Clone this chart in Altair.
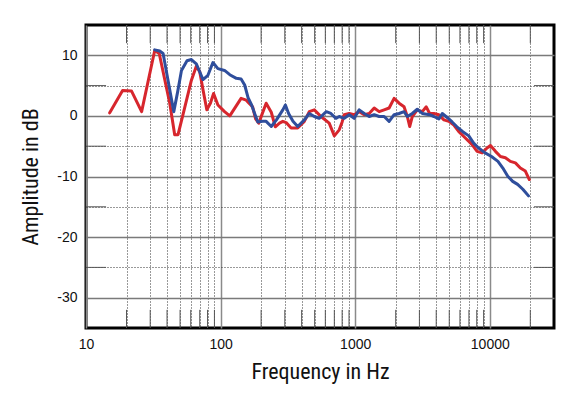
import altair as alt
import pandas as pd

# ---- data ----
red_freq = [15, 18.7, 21.8, 25.9, 32.4, 35, 41.9, 45.6, 48.3, 54, 60.7, 66, 70, 74, 79, 84, 88.7, 95.5,
            107, 117, 142, 155, 164, 173, 182, 192, 205, 218, 238, 255, 274, 290, 307, 334, 374, 419,
            456, 497, 557, 641, 700, 761, 800, 829, 903, 983, 1071, 1167, 1271, 1384, 1507, 1641,
            1787, 1946, 2119, 2307, 2439, 2541, 2656, 2893, 3152, 3373, 3573, 3846, 4188, 4561, 4966,
            5408, 5889, 6413, 7390, 8047, 8763, 9543, 10118, 11019, 11999, 13066, 14228, 15494,
            16872, 18373, 19672]
red_db = [0.5, 4.2, 4.1, 0.7, 10.8, 10.3, 2.1, -3.1, -3.1, 1.3, 5.9, 8.2, 7.3, 4.3, 1.0, 2.1, 3.7, 1.8,
          0.7, 0.0, 2.9, 2.6, 2.0, 1.5, -0.5, -1.2, 0.5, 2.1, 0.6, -1.8, -1.2, -0.9, -1.1, -2.0, -2.0, -0.9,
          0.7, 1.0, -0.1, -1.2, -3.3, -2.3, -1.0, 0.2, 0.4, 0.2, 0.7, 0.2, 0.4, 1.3, 0.7, 1.0,
          1.3, 2.9, 2.1, 1.5, -0.1, -1.75, -0.1, 1.0, 0.7, 1.5, 0.4, 0.4, 0.2, -0.65, -0.9,
          -1.5, -2.6, -3.4, -4.75, -5.85, -6.1, -5.3, -4.9, -5.85, -6.7, -6.9, -7.5, -7.75,
          -8.6, -9.1, -10.5]

blue_freq = [32.4, 35.3, 37.4, 44.9, 48, 51.2, 56.3, 60.7, 66, 74, 80.5, 87.7, 95.5, 107, 117, 131,
             142, 151, 160, 170, 179, 189, 205, 218, 238, 260, 290, 303, 320, 345, 374, 419, 456, 497,
             540, 610, 660, 719, 761, 829, 903, 983, 1071, 1167, 1271, 1384, 1507, 1641, 1787, 1946,
             2119, 2307, 2439, 2656, 2893, 3152, 3573, 3846, 4188, 4436, 4850, 5250, 5700, 6300, 6983,
             7585, 8260, 9230, 10300, 11500, 12500, 13600, 14800, 16100, 17600, 19400]
blue_db = [10.9, 10.7, 10.3, 0.7, 4.0, 7.5, 9.1, 9.3, 8.6, 6.0, 6.7, 8.8, 7.8, 7.5, 6.8, 6.2,
           6.1, 5.1, 3.0, 1.8, 0.4, -1.0, -0.9, -0.9, -1.75, -0.65, 1.0, 1.8, 0.4, -0.9, -1.75, -0.65, 0.4, -0.1,
           -0.4, 0.7, 0.4, -0.4, -0.1, -0.4, 0.2, -0.4, 1.0, 0.4, -0.1, 0.2, -0.1, -0.1, -0.9, 0.2,
           0.4, 0.7, -0.1, 0.4, 1.1, 0.4, 0.2, -0.1, -0.5, 0.4, -0.3, -1.0, -1.8, -2.6, -3.3,
           -4.5, -5.3, -6.1, -6.7, -7.5, -8.6, -9.95, -10.8, -11.3, -12.1, -13.2]

series_names = ["red", "blue"]
series_colors = ["#d7262d", "#2f4e9c"]

x_grid = [10, 20, 30, 40, 50, 60, 70, 80, 90,
          100, 200, 300, 400, 500, 600, 700, 800, 900,
          1000, 2000, 3000, 4000, 5000, 6000, 7000, 8000, 9000,
          10000, 20000]
x_labels = [10, 100, 1000, 10000]
y_grid = [10, 5, 0, -5, -10, -15, -20, -25, -30]
y_minor = [5, -5, -15, -25]
x_minor = [f for f in x_grid if f not in x_labels]

x_domain = [10, 30000]
y_domain = [-35, 15]

# ---- tables ----
lines_df = pd.concat([
    pd.DataFrame({"freq": red_freq, "db": red_db, "series": "red"}),
    pd.DataFrame({"freq": blue_freq, "db": blue_db, "series": "blue"}),
])

vticks = pd.DataFrame(
    [{"f": f, "y1": y_domain[0], "y2": y_domain[0] + 3} for f in x_minor] +
    [{"f": f, "y1": y_domain[1] - 3, "y2": y_domain[1]} for f in x_minor]
)
hticks = pd.DataFrame(
    [{"d": d, "x1": x_domain[0], "x2": 14.1} for d in y_minor] +
    [{"d": d, "x1": 21300, "x2": x_domain[1]} for d in y_minor]
)

xs = alt.Scale(type="log", domain=x_domain, nice=False)
ys = alt.Scale(domain=y_domain, nice=False)

major_test = " || ".join(f"datum.value == {v}" for v in x_labels)
title_font = "Liberation Sans Narrow, Roboto Condensed, DejaVu Sans Condensed, sans-serif"

x_axis = alt.Axis(
    values=x_grid,
    labelExpr=f"({major_test}) ? ('' + datum.value) : ''",
    title="Frequency in Hz", grid=True,
    gridDash={"condition": {"test": major_test, "value": [1, 0]}, "value": [1, 2]},
    gridColor={"condition": {"test": major_test, "value": "#8a8a8a"}, "value": "#333333"},
    gridWidth={"condition": {"test": major_test, "value": 1.5}, "value": 1},
    domain=False, ticks=False, labelFlush=False, labelOverlap=False,
    labelFont="Liberation Sans", labelFontSize=14, labelColor="#111", labelPadding=9,
    titleFont=title_font,
    titleFontSize=22, titleFontWeight="normal", titleColor="#111", titlePadding=10,
)
y_axis = alt.Axis(
    values=y_grid,
    labelExpr="datum.value % 10 == 0 ? ('' + datum.value) : ''",
    title="Amplitude in dB", grid=True,
    gridDash={"condition": {"test": "datum.value % 10 == 0", "value": [1, 0]}, "value": [1, 2]},
    gridColor={"condition": {"test": "datum.value % 10 == 0", "value": "#7a7a7a"}, "value": "#333333"},
    gridWidth={"condition": {"test": "datum.value % 10 == 0", "value": 1.5}, "value": 1},
    domain=False, ticks=False, labelOverlap=False,
    labelFont="Liberation Sans", labelFontSize=14, labelColor="#111", labelPadding=9,
    titleFont=title_font,
    titleFontSize=22, titleFontWeight="normal", titleColor="#111", titlePadding=14,
)

vrules = alt.Chart(vticks).mark_rule(color="#555555", strokeWidth=1).encode(
    x=alt.X("f:Q", scale=xs, axis=x_axis),
    y=alt.Y("y1:Q", scale=ys, axis=y_axis),
    y2="y2:Q",
)
hrules = alt.Chart(hticks).mark_rule(color="#555555", strokeWidth=1).encode(
    x=alt.X("x1:Q", scale=xs, axis=x_axis),
    x2="x2:Q",
    y=alt.Y("d:Q", scale=ys, axis=y_axis),
)
lines = alt.Chart(lines_df).mark_line(strokeWidth=3, strokeJoin="round", strokeCap="round").encode(
    x=alt.X("freq:Q", scale=xs, axis=x_axis),
    y=alt.Y("db:Q", scale=ys, axis=y_axis),
    color=alt.Color("series:N", scale=alt.Scale(domain=series_names, range=series_colors), legend=None),
    order=alt.Order("freq:Q"),
)

chart = alt.layer(vrules, hrules, lines).properties(
    width=468, height=303,
    autosize=alt.AutoSizeParams(type="none"),
    padding={"left": 78, "top": 17, "right": 21, "bottom": 59},
    background="white",
).configure_view(stroke="#000000", strokeWidth=3)

chart.save("out.html", embed_options={"renderer": "svg", "actions": False})
